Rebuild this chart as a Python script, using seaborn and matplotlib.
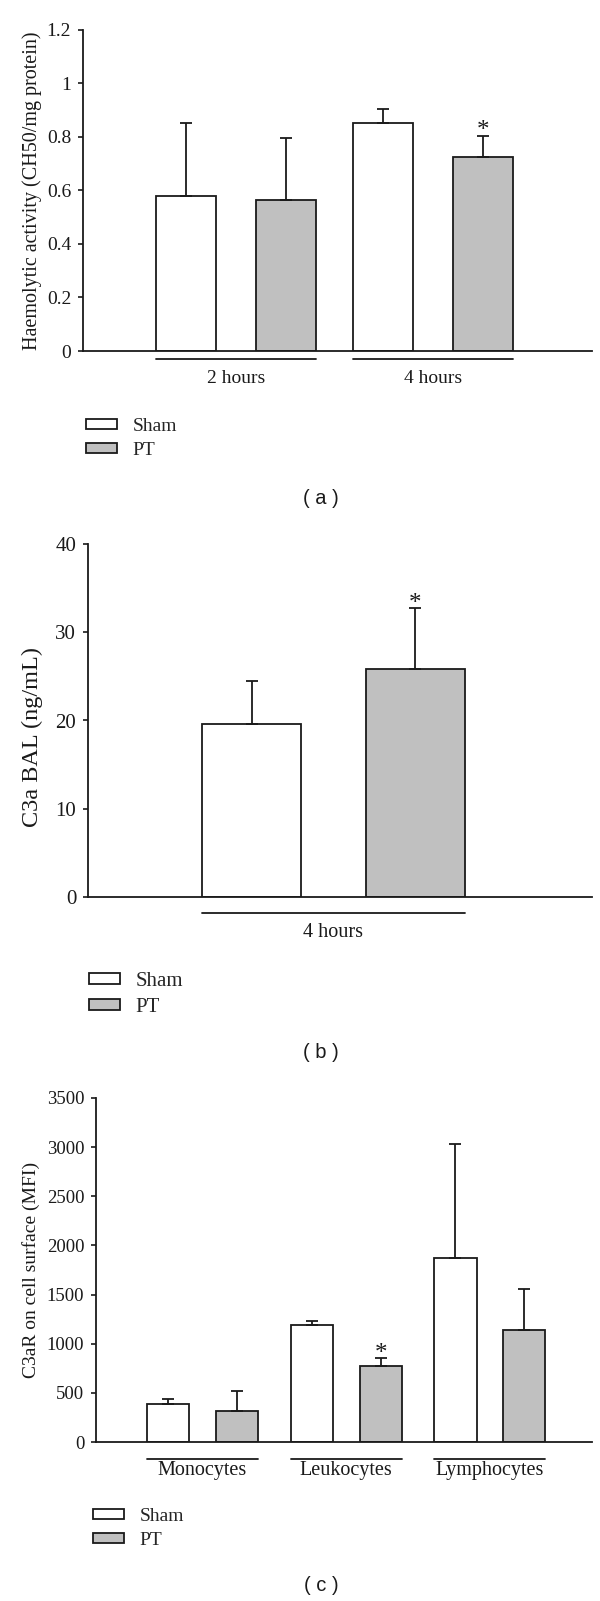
import numpy as np
import pandas as pd
import seaborn as sns
import matplotlib.pyplot as plt
import matplotlib.patches as mpatches
from matplotlib.ticker import FuncFormatter

# panel (a) - haemolytic activity
groups_a = ["2 hours", "4 hours"]
sham_a = [0.578, 0.852]
sham_a_err = [0.274, 0.052]
pt_a = [0.563, 0.726]
pt_a_err = [0.233, 0.079]
ticks_a = [0, 0.2, 0.4, 0.6, 0.8, 1, 1.2]

# panel (b) - C3a in BAL
groups_b = ["4 hours"]
sham_b = [19.57]
sham_b_err = [4.89]
pt_b = [25.81]
pt_b_err = [6.97]
ticks_b = [0, 10, 20, 30, 40]

# panel (c) - C3aR on cells
groups_c = ["Monocytes", "Leukocytes", "Lymphocytes"]
sham_c = [385, 1192, 1871]
sham_c_err = [56, 35, 1160]
pt_c = [318, 769, 1140]
pt_c_err = [199, 88, 416]
ticks_c = [0, 500, 1000, 1500, 2000, 2500, 3000, 3500]

treatments = ["Sham", "PT"]
colors = {"Sham": "white", "PT": "#c0c0c0"}
ink = "#1a1a1a"

sns.set_theme(style="ticks")
plt.rcParams["font.family"] = ["Liberation Serif", "DejaVu Serif"]

W, H = 600, 1601
fig = plt.figure(figsize=(W / 100, H / 100), dpi=100)


def px_box(left, right, top, bottom):
    return [left / W, 1 - bottom / H, (right - left) / W, (bottom - top) / H]


def panel(box, groups, sham, sham_err, pt, pt_err, ticks, ylabel, width, gap,
          xlim, line_off, pad, label_xy, star_idx, tick_fs, ylab_fs, xlab_fs):
    ax = fig.add_axes(box)
    df = pd.DataFrame({
        "group": groups * 2,
        "treatment": ["Sham"] * len(groups) + ["PT"] * len(groups),
        "value": sham + pt,
    })
    sns.barplot(data=df, x="group", y="value", hue="treatment", order=groups,
                hue_order=treatments, palette=colors, saturation=1,
                edgecolor=ink, linewidth=1.3, width=width, gap=gap,
                errorbar=None, legend=False, ax=ax)
    bars = list(ax.containers[:2])
    errs = [sham_err, pt_err]
    vals = [sham, pt]
    for k, cont in enumerate(bars):
        for i, bar in enumerate(cont):
            xc = bar.get_x() + bar.get_width() / 2
            ax.errorbar(xc, vals[k][i], yerr=[[0], [errs[k][i]]], fmt="none",
                        ecolor=ink, elinewidth=1.3, capsize=4, capthick=1.3)
    # star on the PT bar
    if star_idx is not None:
        bar = bars[1][star_idx]
        xc = bar.get_x() + bar.get_width() / 2
        ax.annotate("*", xy=(xc, pt[star_idx] + pt_err[star_idx]), xytext=(0, 3),
                    textcoords="offset points", ha="center", va="center",
                    fontsize=18, color=ink)
    # lines under each group
    trans = ax.get_xaxis_transform()
    for i in range(len(groups)):
        left = bars[0][i].get_x()
        right = bars[1][i].get_x() + bars[1][i].get_width()
        ax.plot([left, right], [line_off, line_off], transform=trans,
                clip_on=False, color=ink, lw=1.3)
    ax.set_xlim(*xlim)
    ax.set_ylim(ticks[0], ticks[-1])
    ax.set_yticks(ticks)
    ax.yaxis.set_major_formatter(FuncFormatter(lambda v, p: f"{v:g}"))
    ax.set_xlabel("")
    ax.set_ylabel(ylabel, fontsize=ylab_fs, color=ink)
    ax.yaxis.set_label_coords(*label_xy)
    sns.despine(ax=ax)
    for s in ["left", "bottom"]:
        ax.spines[s].set_color(ink)
        ax.spines[s].set_linewidth(1.3)
    ax.tick_params(axis="y", direction="out", length=3.5, width=1.2,
                   labelsize=tick_fs, colors=ink, pad=5)
    ax.tick_params(axis="x", length=0, labelsize=xlab_fs, colors=ink, pad=pad)
    return ax


def add_legend(x, top, fs):
    handles = [mpatches.Patch(facecolor=colors[t], edgecolor=ink, linewidth=1.3,
                              label=t) for t in treatments]
    fig.legend(handles=handles, loc="upper left", bbox_to_anchor=(x / W, 1 - top / H),
               frameon=False, fontsize=fs, handlelength=1.6 * 14 / fs,
               handleheight=0.46 * 14 / fs, handletextpad=0.8 * 14 / fs,
               labelspacing=0.35 * 14 / fs, borderpad=0, borderaxespad=0)


ax_a = panel(px_box(83, 592, 30, 351), groups_a, sham_a, sham_a_err, pt_a, pt_a_err,
             ticks_a, "Haemolytic activity (CH50/mg protein)", 1.015, 0.4,
             (-0.777, 1.807), -0.025, 14, (-0.08, 0.5), 1, 14, 14.5, 14)
ax_b = panel(px_box(88, 592, 544, 897), groups_b, sham_b, sham_b_err, pt_b, pt_b_err,
             ticks_b, "C3a BAL (ng/mL)", 1.0, 0.395,
             (-0.75, 0.791), -0.045, 19, (-0.09, 0.453), 0, 15, 17.5, 14.5)
ax_c = panel(px_box(96, 592, 1098, 1442), groups_c, sham_c, sham_c_err, pt_c, pt_c_err,
             ticks_c, "C3aR on cell surface (MFI)", 0.96, 0.39,
             (-0.741, 2.71), -0.049, 14, (-0.112, 0.5), 1, 13.5, 14, 14.5)

add_legend(86, 418, 14)
add_legend(89, 972, 15)
add_legend(93, 1508, 14)

for lab, y in [("( a )", 498), ("( b )", 1052), ("( c )", 1585)]:
    fig.text(321 / W, 1 - y / H, lab, ha="center", va="center", fontsize=14.5,
             family=["Liberation Sans", "DejaVu Sans"], color=ink)

fig.savefig("out.png", dpi=100, facecolor="white")
